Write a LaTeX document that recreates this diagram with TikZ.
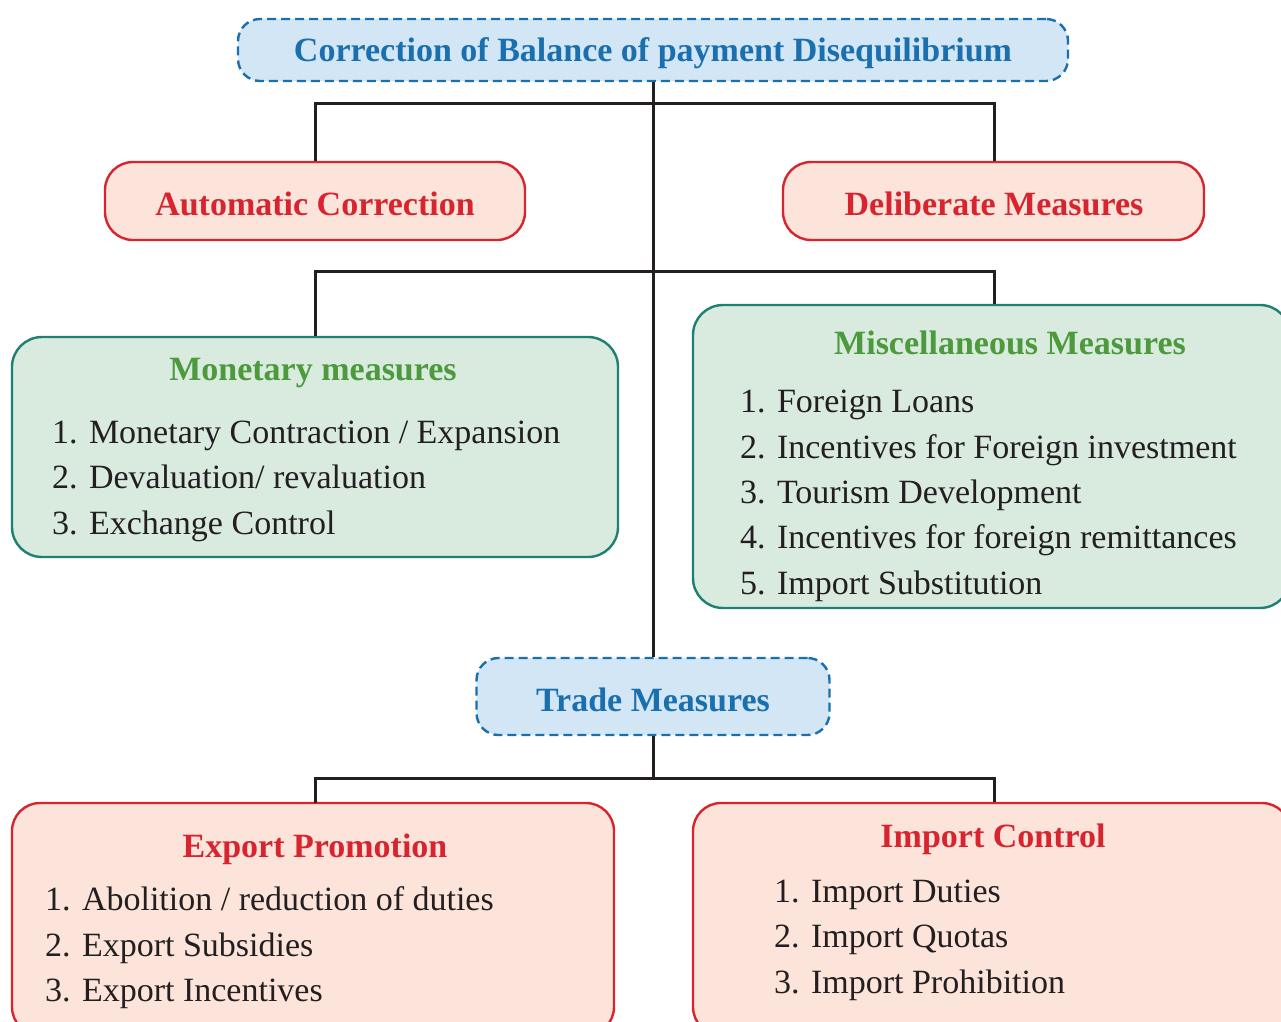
\documentclass[tikz,border=0pt]{standalone}
\usepackage{fontspec}
\setmainfont{Liberation Serif}
\definecolor{lineC}{HTML}{231F20}
\definecolor{blueC}{HTML}{1A6FAF}
\definecolor{blueF}{HTML}{D3E6F6}
\definecolor{redC}{HTML}{D7242E}
\definecolor{redF}{HTML}{FCE4DA}
\definecolor{tealC}{HTML}{1E7F73}
\definecolor{greenF}{HTML}{D9EADF}
\definecolor{greenT}{HTML}{4C9A3C}
\definecolor{textC}{HTML}{231F20}
\begin{document}
\begin{tikzpicture}[x=1pt,y=-1pt,
  conn/.style={line width=3pt, draw=lineC},
  bluebox/.style={draw=blueC, fill=blueF, line width=2.4pt, dash pattern=on 9pt off 5pt, rounded corners=22pt, inner sep=0pt},
  redbox/.style={draw=redC, fill=redF, line width=2.4pt, rounded corners=28pt, inner sep=0pt},
  greenbox/.style={draw=tealC, fill=greenF, line width=2.4pt, rounded corners=30pt, inner sep=0pt},
  bluetitle/.style={text=blueC, font=\fontsize{34}{40}\selectfont\bfseries, inner sep=0pt},
  redtitle/.style={text=redC, font=\fontsize{34}{40}\selectfont\bfseries, inner sep=0pt},
  greentitle/.style={text=greenT, font=\fontsize{34}{40}\selectfont\bfseries, inner sep=0pt},
  item/.style={text=textC, font=\fontsize{34}{40}\selectfont, anchor=base west, inner sep=0pt}
]
\useasboundingbox (0,0) rectangle (1281,1021);
\clip (0,0) rectangle (1281,1021);

% boxes
\node[bluebox, minimum width=830pt, minimum height=62pt] (top) at (653,50) {};
\node[redbox, minimum width=420pt, minimum height=78pt] (auto) at (315,201) {};
\node[redbox, minimum width=421pt, minimum height=78pt] (delib) at (993.5,201) {};
\node[greenbox, minimum width=606pt, minimum height=220pt] (mon) at (315,447) {};
\node[greenbox, minimum width=597pt, minimum height=303pt] (misc) at (991.5,456.5) {};
\node[bluebox, minimum width=353pt, minimum height=77pt] (trade) at (653,696.5) {};
\node[redbox, minimum width=602pt, minimum height=232pt] (exp) at (313,919) {};
\node[redbox, minimum width=597pt, minimum height=232pt] (imp) at (991.5,919) {};

% connectors
\coordinate (j1) at (653,103);
\coordinate (j2) at (653,271);
\coordinate (j3) at (653,778);
\coordinate (jd) at (994,103);
\coordinate (jm) at (994,271);
\coordinate (ji) at (994,778);
\draw[conn] (top.south) -- (trade.north);
\draw[conn] (auto.north) |- (j1) -- (jd) -- (jd |- delib.north);
\draw[conn] (mon.north) |- (j2) -- (jm) -- (jm |- misc.north);
\draw[conn] (trade.south) -- (j3);
\draw[conn] (315,803) |- (j3) -- (ji) -- (ji |- imp.north);

% titles
\begin{scope}[shift={(0,3)}]
\node[bluetitle] (topT) at (653,50) {Correction of Balance of payment Disequilibrium};
\node[redtitle] (autoT) at (315,201) {Automatic Correction};
\node[redtitle] (delibT) at (994,201) {Deliberate Measures};
\node[greentitle] (monT) at (313,370) {Monetary measures};
\node[greentitle] (miscT) at (1010,340) {Miscellaneous Measures};
\node[bluetitle] (tradeT) at (653,697) {Trade Measures};
\node[redtitle] (expT) at (315,846) {Export Promotion};
\node[redtitle] (impT) at (993,836) {Import Control};
\end{scope}

% items (baselines)
\begin{scope}[shift={(0,12)}]
\node[item] (m1) at (52,431) {1. Monetary Contraction / Expansion};
\node[item] (m2) at (52,476) {2. Devaluation/ revaluation};
\node[item] (m3) at (52,522) {3. Exchange Control};

\node[item] (s1) at (740,400) {1. Foreign Loans};
\node[item] (s2) at (740,446) {2. Incentives for Foreign investment};
\node[item] (s3) at (740,491) {3. Tourism Development};
\node[item] (s4) at (740,536) {4. Incentives for foreign remittances};
\node[item] (s5) at (740,582) {5. Import Substitution};

\node[item] (e1) at (45,898) {1. Abolition / reduction of duties};
\node[item] (e2) at (45,944) {2. Export Subsidies};
\node[item] (e3) at (45,989) {3. Export Incentives};

\node[item] (i1) at (774,890) {1. Import Duties};
\node[item] (i2) at (774,935) {2. Import Quotas};
\node[item] (i3) at (774,981) {3. Import Prohibition};
\end{scope}
\end{tikzpicture}
\end{document}
